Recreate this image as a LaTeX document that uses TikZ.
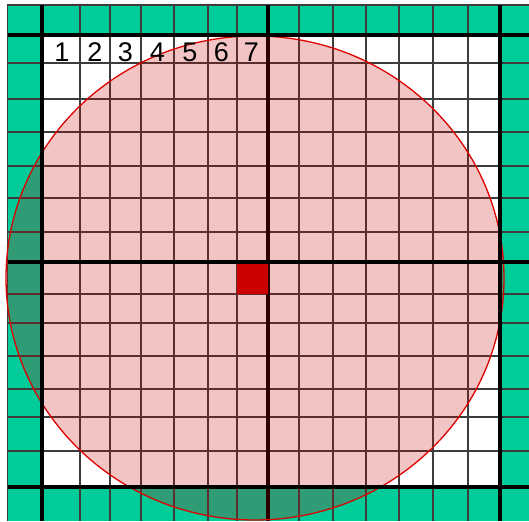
\documentclass[tikz,border=0pt]{standalone}
\usepackage{fontspec}
\setmainfont{Liberation Sans}
\definecolor{band}{RGB}{0,204,153}
\definecolor{spot}{RGB}{204,0,0}
\definecolor{rim}{RGB}{221,0,0}
\definecolor{gridline}{RGB}{60,60,60}
\begin{document}
\begin{tikzpicture}[x=1pt,y=-1pt,
    thin line/.style={gridline,line width=1.5pt},
    thick line/.style={black,line width=4.6pt},
    cell label/.style={anchor=base,inner sep=0pt,font=\fontsize{27}{27}\selectfont}]
  \useasboundingbox (0,0) rectangle (529,521);

  % Outer band and inner field
  \fill[band] (7.5,5) rectangle (529,521);
  \fill[white] (42,35) rectangle (500,487);

  % Thin grid
  \foreach \x in {80,110,141,174,208,237,299,333,366,399,433,468}
    \draw[thin line] (\x,5) -- (\x,521);
  \foreach \y in {63,99,132,166,198,232,294,323,356,389,417,451}
    \draw[thin line] (7.5,\y) -- (529,\y);
  \draw[thin line] (7.5,521) -- (7.5,5) -- (529,5);

  % Middle column line
  \draw[thick line] (268,5) -- (268,521);

  % Disc
  \coordinate (O) at (255,278);
  \draw[rim,line width=1.3pt,fill=spot,fill opacity=0.23] (O) ellipse [x radius=249,y radius=242];

  % Centre cell
  \fill[spot] (237,262) rectangle (268,294);

  % Thick lines
  \foreach \x in {42,500}
    \draw[thick line] (\x,5) -- (\x,521);
  \foreach \y in {35,262,487}
    \draw[thick line] (7.5,\y) -- (529,\y);

  % Column numbers
  \foreach \n/\x in {1/62,2/95,3/125.5,4/157.5,5/190,6/221.5,7/251.5}
    \node[cell label] (n\n) at (\x,61.5) {\n};
\end{tikzpicture}
\end{document}
